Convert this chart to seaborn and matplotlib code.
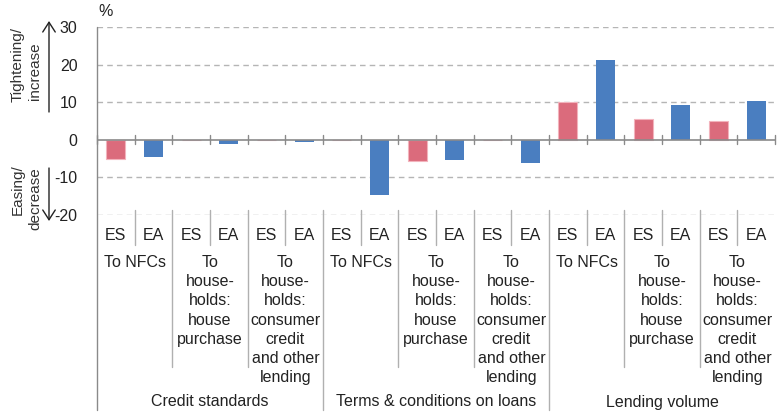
import matplotlib
matplotlib.use("Agg")
import matplotlib.pyplot as plt
from matplotlib.transforms import blended_transform_factory
import numpy as np
import pandas as pd
import seaborn as sns

# Survey results, net percentages (ES = Spain, EA = euro area)
groups = ["Credit standards", "Terms & conditions on loans", "Lending volume"]
subgroups = ["To NFCs", "To\nhouse-\nholds:\nhouse\npurchase",
             "To\nhouse-\nholds:\nconsumer\ncredit\nand other\nlending"]
countries = ["ES", "EA"]
es_values = [-5.0, 0.0, 0.0, 0.0, -5.6, 0.0, 10.0, 5.5, 5.0]
ea_values = [-4.6, -1.2, -0.6, -14.7, -5.5, -6.2, 21.1, 9.2, 10.2]
y_ticks = [-20, -10, 0, 10, 20, 30]

PINK = "#DB6B7C"
BLUE = "#4A7EC0"
GRID = "#B5B5B5"
LINE = "#8A8A8A"
SEP = "#B0B0B0"
TXT = "#222222"

rows = []
slot = 0
for k in range(len(es_values)):
    for c, v in zip(countries, (es_values[k], ea_values[k])):
        rows.append({"slot": str(slot), "country": c, "value": v})
        slot += 1
df = pd.DataFrame(rows)
n_slots = len(df)

sns.set_style("white")
plt.rcParams["font.family"] = ["Liberation Sans", "DejaVu Sans"]

W, H = 779, 412
fig = plt.figure(figsize=(W / 100, H / 100), dpi=100)
left, right, top, bottom = 97, 775, 27, 215
ax = fig.add_axes([left / W, 1 - bottom / H, (right - left) / W, (bottom - top) / H])

sns.barplot(data=df, x="slot", y="value", hue="country", order=df["slot"].tolist(),
            hue_order=countries, palette={"ES": PINK, "EA": BLUE}, dodge=False,
            width=0.5, legend=False, saturation=1, ax=ax)
for p in ax.patches:
    fc = p.get_facecolor()
    if abs(fc[0] - 0xDB / 255) < 0.02:
        p.set_edgecolor("#F2B3BC")
        p.set_linewidth(0.8)
    else:
        p.set_edgecolor("none")

ax.set_xlim(-0.5, n_slots - 0.5)
ax.set_ylim(-20, 30)
ax.set_xticks([])
ax.set_yticks(y_ticks)
ax.set_yticklabels([str(t) for t in y_ticks], fontsize=11.5, color=TXT)
ax.tick_params(axis="y", length=0, pad=14)
ax.set_xlabel("")
ax.set_ylabel("")
for s in ax.spines.values():
    s.set_visible(False)

for t in y_ticks:
    if t != 0:
        ax.axhline(t, color=GRID, lw=1.0, ls=(0, (4, 3)), zorder=0)
ax.axhline(0, color=LINE, lw=1.2, zorder=3)

# small ticks across the zero line at every slot boundary
for b in np.arange(-0.5, n_slots, 1.0):
    ax.plot([b, b], [-1.2, 1.2], color=LINE, lw=1.0, zorder=3, clip_on=False)

# helper: data x, figure-pixel y (measured from the top)
tr = blended_transform_factory(ax.transData, fig.transFigure)
def fy(py):
    return 1 - py / H

def vline(x, y0, y1, color=SEP, lw=1.0):
    ax.plot([x, x], [fy(y0), fy(y1)], transform=tr, color=color, lw=lw, clip_on=False)

# left axis line runs down through the category table
vline(-0.5, top, 410, color=LINE, lw=1.0)

for i in range(n_slots):
    ax.text(i, fy(235), countries[i % 2], transform=tr, ha="center", va="center",
            fontsize=11.5, color=TXT)
for k in range(len(es_values)):
    vline(2 * k + 0.5, 210, 245)
    ax.text(2 * k + 0.5, fy(255), subgroups[k % 3], transform=tr, ha="center", va="top",
            fontsize=11.5, color=TXT, linespacing=1.35)
    if k > 0:
        x = 2 * k - 0.5
        if k % 3 == 0:
            vline(x, 210, 410)
        else:
            vline(x, 210, 367)
for g, name in enumerate(groups):
    ax.text(6 * g + 2.5, fy(402), name, transform=tr, ha="center", va="center",
            fontsize=11.5, color=TXT)

# unit label
fig.text(98 / W, fy(12), "%", ha="left", va="center", fontsize=11.5, color=TXT)

# direction annotations on the left
for txt, px, py in [("Tightening/", 18, 64.5), ("increase", 35, 71.5),
                    ("Easing/", 18, 190), ("decrease", 35, 199)]:
    fig.text(px / W, fy(py), txt, rotation=90, ha="center", va="center",
             fontsize=11, color="#333333")
arrow = dict(arrowstyle="->,head_length=0.7,head_width=0.45", color=TXT, lw=1.0,
             shrinkA=0, shrinkB=0)
fig.add_artist(matplotlib.patches.FancyArrowPatch((49 / W, fy(112)), (49 / W, fy(21)),
               transform=fig.transFigure, mutation_scale=10, **arrow))
fig.add_artist(matplotlib.patches.FancyArrowPatch((49 / W, fy(168)), (49 / W, fy(221)),
               transform=fig.transFigure, mutation_scale=10, **arrow))

fig.savefig("out.png", dpi=100)
